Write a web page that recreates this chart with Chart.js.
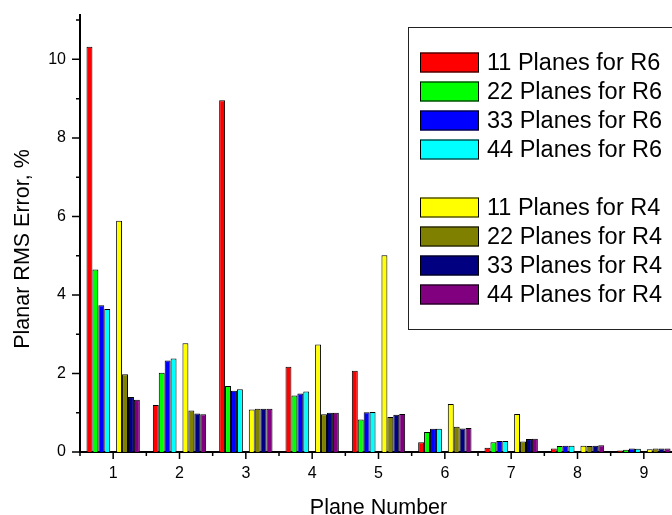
<!DOCTYPE html>
<html>
<head>
<meta charset="utf-8">
<script src="https://cdn.jsdelivr.net/npm/chart.js@4"></script>
<style>
    html, body { margin: 0; padding: 0; background: #fff; overflow: hidden; }
    #wrap { width: 690px; height: 515px; }
</style>
</head>
<body>
<div id="wrap"><canvas id="rmsChart" width="690" height="515"></canvas></div>
<script>
// plane numbers on the x axis
const planes = ['1', '2', '3', '4', '5', '6', '7', '8', '9'];

// RMS error, % (R6 reconstructions)
const r6Planes11 = [10.32, 1.20, 8.96, 2.17, 2.07, 0.25, 0.11, 0.09, 0.04];
const r6Planes22 = [4.65, 2.02, 1.68, 1.44, 0.83, 0.51, 0.25, 0.15, 0.06];
const r6Planes33 = [3.74, 2.33, 1.56, 1.49, 1.01, 0.59, 0.28, 0.16, 0.09];
const r6Planes44 = [3.64, 2.38, 1.60, 1.54, 1.02, 0.59, 0.28, 0.16, 0.08];

// RMS error, % (R4 reconstructions)
const r4Planes11 = [5.89, 2.77, 1.08, 2.74, 5.01, 1.22, 0.97, 0.16, 0.07];
const r4Planes22 = [1.98, 1.06, 1.10, 0.96, 0.89, 0.64, 0.27, 0.15, 0.09];
const r4Planes33 = [1.40, 0.98, 1.10, 1.00, 0.95, 0.60, 0.33, 0.16, 0.09];
const r4Planes44 = [1.33, 0.96, 1.10, 1.00, 0.97, 0.61, 0.34, 0.17, 0.09];

const yTicks = [0, 2, 4, 6, 8, 10];

const FONT = '"Liberation Sans", Arial, sans-serif';

function bar(label, data, color) {
    return {
        label: label,
        data: data,
        backgroundColor: color,
        borderColor: '#000',
        borderWidth: 1,
        borderSkipped: 'start'
    };
}

// draws axis ticks and axis titles
const axisDecor = {
    id: 'axisDecor',
    afterDraw(chart) {
        const ctx = chart.ctx;
        const area = chart.chartArea;
        const xs = chart.scales.x;
        const ys = chart.scales.y;

        ctx.save();
        ctx.strokeStyle = '#000';
        ctx.lineWidth = 1.5;
        ctx.beginPath();
        for (let v = 0; v <= 11; v++) {
            const py = ys.getPixelForValue(v);
            const len = yTicks.includes(v) ? 8 : 4;
            ctx.moveTo(area.left - len, py);
            ctx.lineTo(area.left, py);
        }
        const half = (xs.getPixelForValue(1) - xs.getPixelForValue(0)) / 2;
        planes.forEach(function (p, i) {
            const px = xs.getPixelForValue(i);
            ctx.moveTo(px, area.bottom);
            ctx.lineTo(px, area.bottom + 7);
            ctx.moveTo(px - half, area.bottom);
            ctx.lineTo(px - half, area.bottom + 4);
        });
        ctx.stroke();

        ctx.fillStyle = '#000';
        ctx.font = '21.5px ' + FONT;
        ctx.textAlign = 'center';
        ctx.textBaseline = 'alphabetic';
        ctx.fillText('Plane Number', (area.left + area.right) / 2, 514);

        ctx.translate(28.5, 249);
        ctx.rotate(-Math.PI / 2);
        ctx.fillText('Planar RMS Error, %', 0, 0);
        ctx.restore();
    }
};

// boxed legend inside the plot, blank row between the two groups
const boxLegend = {
    id: 'boxLegend',
    afterDraw(chart) {
        const ctx = chart.ctx;
        const left = 408, top = 27.5, bottom = 329.5;
        ctx.save();
        ctx.fillStyle = '#fff';
        ctx.fillRect(left, top, chart.width - left, bottom - top);
        ctx.strokeStyle = '#222';
        ctx.lineWidth = 1;
        ctx.strokeRect(left + 0.5, top, chart.width, bottom - top);

        ctx.font = '23.5px ' + FONT;
        ctx.textAlign = 'left';
        ctx.textBaseline = 'middle';
        chart.data.datasets.forEach(function (ds, i) {
            if (!ds.label) return;
            const rowTop = 52.5 + 29 * i;
            ctx.fillStyle = ds.backgroundColor;
            ctx.fillRect(420, rowTop, 59, 20);
            ctx.strokeStyle = '#000';
            ctx.strokeRect(420.5, rowTop + 0.5, 58, 19);
            ctx.fillStyle = '#000';
            ctx.fillText(ds.label, 487, rowTop + 11);
        });
        ctx.restore();
    }
};

const ctx = document.getElementById('rmsChart').getContext('2d');

new Chart(ctx, {
    type: 'bar',
    data: {
        labels: planes,
        datasets: [
            bar('11 Planes for R6', r6Planes11, '#ff0000'),
            bar('22 Planes for R6', r6Planes22, '#00ff00'),
            bar('33 Planes for R6', r6Planes33, '#0000ff'),
            bar('44 Planes for R6', r6Planes44, '#00ffff'),
            { label: '', data: [] },
            bar('11 Planes for R4', r4Planes11, '#ffff00'),
            bar('22 Planes for R4', r4Planes22, '#808000'),
            bar('33 Planes for R4', r4Planes33, '#000080'),
            bar('44 Planes for R4', r4Planes44, '#800080')
        ]
    },
    options: {
        responsive: false,
        animation: false,
        events: [],
        layout: {
            padding: { left: 0, top: 15, right: 13, bottom: 0 }
        },
        datasets: {
            bar: {
                categoryPercentage: 0.804,
                barPercentage: 1.0
            }
        },
        plugins: {
            legend: { display: false },
            tooltip: { enabled: false },
            title: { display: false }
        },
        scales: {
            x: {
                offset: true,
                grid: { display: false, drawTicks: false },
                border: { display: true, color: '#000', width: 2 },
                ticks: {
                    color: '#000',
                    padding: 12,
                    maxRotation: 0,
                    font: { family: FONT, size: 16 }
                },
                afterFit: function (scale) {
                    scale.height = 63;
                    scale.paddingLeft = 0;
                    scale.paddingRight = 0;
                }
            },
            y: {
                min: 0,
                max: 11.13,
                grid: { display: false, drawTicks: false },
                border: { display: true, color: '#000', width: 2 },
                ticks: {
                    color: '#000',
                    padding: 14,
                    stepSize: 1,
                    font: { family: FONT, size: 16 },
                    callback: function (v) { return yTicks.includes(v) ? String(v) : ''; }
                },
                afterFit: function (scale) {
                    scale.width = 80;
                    scale.paddingTop = 0;
                    scale.paddingBottom = 0;
                }
            }
        }
    },
    plugins: [axisDecor, boxLegend]
});
</script>
</body>
</html>
